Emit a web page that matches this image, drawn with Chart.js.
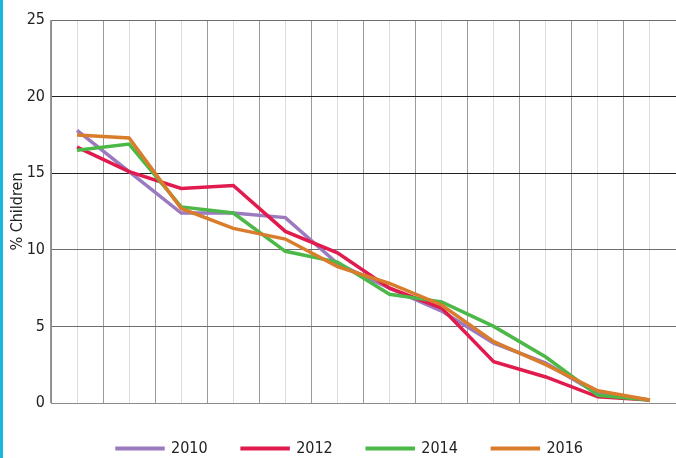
<!DOCTYPE html>
<html>
<head>
<meta charset="utf-8">
<script src="https://cdn.jsdelivr.net/npm/chart.js@4"></script>
<style>
  html, body { margin: 0; padding: 0; background: #fff; }
  #wrap { position: relative; width: 676px; height: 458px; }
  #edge { position: absolute; left: 0; top: 0; width: 3px; height: 458px; background: #1cb5e0; }
</style>
</head>
<body>
<div id="wrap">
  <canvas id="chart" width="676" height="458"></canvas>
  <div id="edge"></div>
</div>
<script>
// データ
var categories = ["I", "II", "III", "IV", "V", "VI", "VII", "VIII", "IX", "X", "XI", "XII"];
var years = ["2010", "2012", "2014", "2016"];
var yTicks = [0, 5, 10, 15, 20, 25];

var values2010 = [17.8, 15.1, 12.4, 12.4, 12.1, 9.1, 7.5, 6.0, 3.9, 2.6, 0.6, 0.2];
var values2012 = [16.7, 15.1, 14.0, 14.2, 11.2, 9.8, 7.5, 6.2, 2.7, 1.7, 0.4, 0.2];
var values2014 = [16.5, 16.9, 12.8, 12.4, 9.9, 9.2, 7.1, 6.6, 5.0, 3.0, 0.5, 0.2];
var values2016 = [17.5, 17.3, 12.7, 11.4, 10.7, 8.9, 7.8, 6.4, 4.0, 2.5, 0.8, 0.2];

var COLORS = ["#9b7abf", "#e11b4d", "#4cb848", "#d97c2b"];
var FONT = "'Liberation Sans Narrow', 'DejaVu Sans Condensed', 'Liberation Sans', sans-serif";

var series = [values2010, values2012, values2014, values2016];

var datasets = series.map(function (vals, i) {
  return {
    label: years[i],
    data: vals,
    borderColor: COLORS[i],
    backgroundColor: COLORS[i],
    borderWidth: 3.5,
    pointRadius: 0,
    tension: 0,
    fill: false,
    order: series.length - i   // 後の年を上に描く
  };
});

// 凡例の位置を微調整
var legendShift = {
  id: "legendShift",
  afterLayout: function (chart) {
    if (chart.legend) {
      chart.legend.left += 12;
      chart.legend.right += 12;
      chart.legend.top += 3;
    }
  }
};

new Chart(document.getElementById("chart"), {
  type: "line",
  data: { labels: categories, datasets: datasets },
  plugins: [legendShift],
  options: {
    responsive: false,
    animation: false,
    layout: { padding: { top: 20, right: 0, left: 0, bottom: 0 } },
    plugins: {
      tooltip: { enabled: false },
      legend: {
        position: "bottom",
        maxHeight: 55,
        labels: {
          boxWidth: 46,
          boxHeight: 0.5,
          padding: 34.5,
          color: "#222",
          font: { family: FONT, size: 16 },
          sort: function (a, b) { return a.datasetIndex - b.datasetIndex; }
        }
      }
    },
    scales: {
      x: {
        type: "category",
        offset: true,
        grid: { offset: true, color: "#9a9a9a", drawTicks: false },
        border: { color: "#8a8a8a" },
        ticks: { color: "#222", padding: 13, font: { family: FONT, size: 16 }, maxRotation: 0 },
        afterFit: function (s) { s.height = 0; }
      },
      x2: {
        type: "category",
        position: "bottom",
        offset: true,
        grid: { offset: false, color: "#dcdcdc", drawTicks: false },
        border: { display: false },
        ticks: { display: false },
        afterFit: function (s) { s.height = 0; }
      },
      y: {
        min: 0,
        max: 25,
        afterBuildTicks: function (s) {
          s.ticks = yTicks.map(function (v) { return { value: v }; });
        },
        grid: {
          drawTicks: false,
          color: function (ctx) {
            var v = ctx.tick && ctx.tick.value;
            if (v === 15 || v === 20) return "#222";
            if (v === 0) return "#999";
            return "#6e6e6e";
          }
        },
        border: { color: "#8a8a8a" },
        ticks: { color: "#222", padding: 6, font: { family: FONT, size: 16 } },
        title: {
          display: true,
          text: "% Children",
          color: "#222",
          padding: { top: 8, bottom: 0 },
          font: { family: FONT, size: 16 }
        },
        afterFit: function (s) { s.width = 51; }
      }
    }
  }
});
</script>
</body>
</html>
